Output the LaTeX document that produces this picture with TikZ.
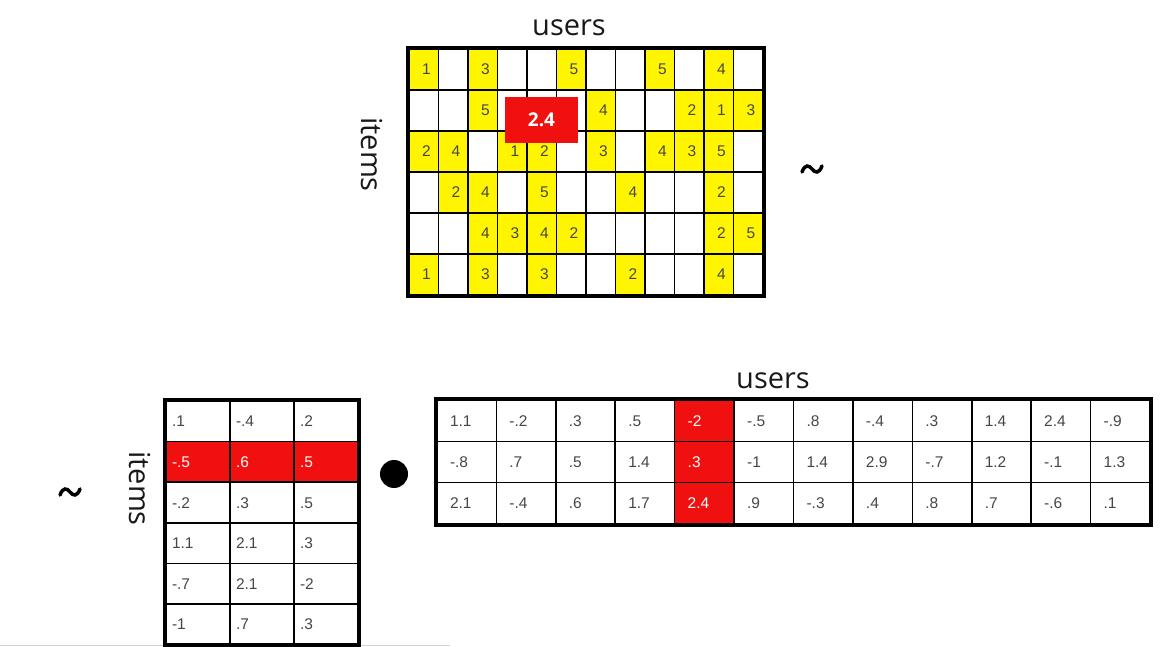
\documentclass[tikz,border=0pt]{standalone}
\usepackage{fontspec}
\setmainfont{Liberation Sans}
\newfontfamily\labfont{Open Sans}
\definecolor{cellyellow}{RGB}{255,245,0}
\definecolor{cellred}{RGB}{240,16,16}
\definecolor{numgrey}{RGB}{70,70,70}
\tikzset{
  numfont/.style={font=\fontsize{15.5}{15.5}\selectfont},
  cellbase/.style={draw=black, line width=1.6pt, inner sep=0pt, numfont, text height=11pt, text depth=0pt},
  topcell/.style={cellbase, minimum width=29.5pt, minimum height=41pt, text width=14pt, align=right},
  blcell/.style={cellbase, minimum width=64pt, minimum height=40.6pt, text width=52pt, align=left},
  brcell/.style={cellbase, minimum width=59.42pt, minimum height=41.33pt, text width=33.4pt, align=left},
  outerframe/.style={draw=black, line width=4pt},
  lab/.style={font=\labfont\fontsize{29}{29}\selectfont, inner sep=0pt, text=black!90},
  predbox/.style={fill=cellred, minimum width=73pt, minimum height=46pt, inner sep=0pt,
    font=\labfont\fontsize{19}{19}\selectfont\bfseries, text=white},
  tildestroke/.style={draw=black, line width=3.5pt, line cap=round},
}
\begin{document}
\begin{tikzpicture}[x=1pt,y=-1pt]
\fill[white] (0,0) rectangle (1171,647);
\useasboundingbox (0,0) rectangle (1171,647);

% faint bottom line of the screen capture
\draw[black!18, line width=1.5pt] (0,645.5) -- (450,645.5);

% ---------- top rating matrix ----------
\foreach \row [count=\r] in {
  {1,0,3,0,0,5,0,0,5,0,4,0},
  {0,0,5,0,0,0,4,0,0,2,1,3},
  {2,4,0,1,2,0,3,0,4,3,5,0},
  {0,2,4,0,5,0,0,4,0,0,2,0},
  {0,0,4,3,4,2,0,0,0,0,2,5},
  {1,0,3,0,3,0,0,2,0,0,4,0}}{
  \foreach \v [count=\c] in \row {
    \ifnum\v>0 \def\cf{cellyellow}\def\ct{\v}\else\def\cf{white}\def\ct{}\fi
    \node[topcell, fill=\cf, text=numgrey] (t-\r-\c) at ({409+(\c-0.5)*29.5},{49+(\r-0.5)*41}) {\ct};
  }
}
\draw[outerframe] (t-1-1.north west) rectangle (t-6-12.south east);

% ---------- bottom-left item factors ----------
\foreach \row [count=\r] in {
  {.1,-.4,.2},
  {-.5,.6,.5},
  {-.2,.3,.5},
  {1.1,2.1,.3},
  {-.7,2.1,-2},
  {-1,.7,.3}}{
  \foreach \v [count=\c] in \row {
    \ifnum\r=2 \def\cf{cellred}\def\tc{white}\else\def\cf{white}\def\tc{numgrey}\fi
    \node[blcell, fill=\cf, text=\tc] (l-\r-\c) at ({166+(\c-0.5)*64},{401+(\r-0.5)*40.6}) {\v};
  }
}
\draw[outerframe] (l-1-1.north west) rectangle (l-6-3.south east);

% ---------- bottom-right user factors ----------
\foreach \row [count=\r] in {
  {1.1,-.2,.3,.5,-2,-.5,.8,-.4,.3,1.4,2.4,-.9},
  {-.8,.7,.5,1.4,.3,-1,1.4,2.9,-.7,1.2,-.1,1.3},
  {2.1,-.4,.6,1.7,2.4,.9,-.3,.4,.8,.7,-.6,.1}}{
  \foreach \v [count=\c] in \row {
    \ifnum\c=5 \def\cf{cellred}\def\tc{white}\else\def\cf{white}\def\tc{numgrey}\fi
    \node[brcell, fill=\cf, text=\tc] (u-\r-\c) at ({437+(\c-0.5)*59.42},{400+(\r-0.5)*41.33}) {\v};
  }
}
\draw[outerframe] (u-1-1.north west) rectangle (u-3-12.south east);

% ---------- predicted value ----------
\node[predbox] (pred) at (541.5,120) {2.4};

% ---------- labels ----------
\node[lab] (topusers) at (569,28) {users};
\node[lab, rotate=-90] (topitems) at (372,154.5) {items};
\node[lab] (botusers) at (773,381) {users};
\node[lab, rotate=-90] (botitems) at (140,488.5) {items};

% ---------- approx signs and dot ----------
\coordinate (tildeA) at (812,169);
\coordinate (tildeB) at (70,492);
\draw[tildestroke, shift={(tildeA)}] (-10,3) .. controls (-7,-5) and (-3,-4) .. (0,0) .. controls (3,4) and (7,5) .. (10,-3);
\draw[tildestroke, shift={(tildeB)}] (-10,3) .. controls (-7,-5) and (-3,-4) .. (0,0) .. controls (3,4) and (7,5) .. (10,-3);
\node[circle, fill=black, minimum size=28pt, inner sep=0pt] (dot) at (394,474) {};
\end{tikzpicture}
\end{document}
